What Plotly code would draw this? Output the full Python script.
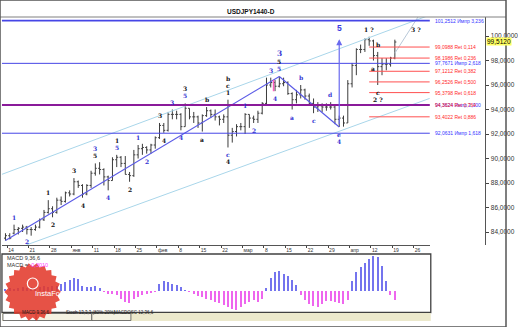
import math
import plotly.graph_objects as go

# ---------------- data ----------------
tick_idx = [1, 6, 11, 16, 21, 26, 31, 36, 41, 46, 51, 56, 61, 66, 71, 76, 81, 86, 91, 96]
tick_text = ['14', '21', '28', 'янв', '11', '18', '25', 'фев', '8', '15', '22', 'мар',
             '8', '15', '22', '29', 'апр', '12', '19', '26']

opens = [83.5, 83.7, 83.9, 84.2, 84.3, 84.4, 84.2, 84.2, 84.4, 85.0, 85.6, 85.9, 85.6, 86.6, 86.5, 87.2,
         87.1, 88.1, 87.8, 87.1, 87.8, 88.8, 89.2, 89.1, 88.5, 88.2, 89.9, 90.1, 89.6, 88.7, 88.6, 90.3,
         90.8, 90.9, 90.7, 91.1, 91.7, 92.7, 92.3, 93.6, 93.6, 93.6, 92.6, 94.1, 93.4, 93.4, 92.9, 93.5,
         93.9, 93.6, 93.4, 93.2, 93.4, 91.9, 92.2, 92.6, 92.6, 93.6, 93.3, 93.2, 93.7, 94.5, 96.0, 96.2,
         95.9, 96.1, 96.2, 95.3, 94.8, 95.2, 95.6, 95.1, 94.5, 94.2, 94.3, 94.2, 94.2, 94.2, 93.2, 93.3,
         92.9, 96.1, 97.6, 98.9, 98.9, 99.7, 99.6, 98.4, 97.5, 97.7, 97.7, 98.2]
highs = [83.9, 83.9, 84.6, 84.4, 84.6, 84.5, 84.4, 84.6, 85.1, 85.8, 86.6, 86.1, 86.8, 86.9, 87.3, 87.4,
         88.4, 88.2, 87.9, 87.9, 89.0, 89.6, 89.7, 89.2, 88.6, 90.1, 90.3, 90.2, 90.2, 88.9, 90.7, 91.1,
         91.2, 91.0, 91.2, 91.8, 92.9, 92.9, 93.8, 94.0, 93.9, 93.7, 94.5, 94.1, 93.8, 93.5, 93.6, 94.2,
         94.0, 94.0, 93.5, 93.6, 94.8, 92.5, 92.8, 92.9, 93.7, 93.6, 93.5, 93.9, 94.6, 96.6, 96.6, 96.4,
         96.7, 96.6, 96.3, 95.4, 95.6, 96.0, 95.7, 95.3, 94.9, 94.6, 94.5, 94.5, 94.6, 94.3, 93.5, 93.5,
         96.4, 97.8, 99.0, 99.3, 99.8, 99.94, 99.7, 98.7, 98.2, 98.2, 98.3, 99.7]
lows = [83.3, 83.4, 83.8, 83.8, 84.0, 83.8, 83.7, 84.1, 84.3, 84.9, 85.5, 85.2, 85.5, 86.2, 86.4, 86.9,
        87.0, 87.6, 86.8, 87.0, 87.6, 88.6, 88.7, 87.8, 87.4, 88.2, 89.3, 89.3, 88.7, 88.1, 88.5, 90.0,
        90.3, 90.4, 90.4, 90.8, 91.6, 92.1, 92.2, 93.2, 93.2, 92.3, 92.6, 93.2, 92.9, 92.5, 92.2, 93.4,
        93.3, 93.1, 92.7, 92.9, 90.9, 91.3, 91.8, 92.3, 92.0, 92.5, 92.9, 92.9, 93.6, 94.3, 95.8, 95.5,
        95.8, 95.9, 95.2, 94.0, 94.5, 94.9, 94.8, 94.4, 93.7, 93.8, 93.8, 93.9, 94.0, 92.8, 92.57, 92.6,
        92.9, 95.8, 96.8, 98.6, 98.7, 99.2, 98.0, 96.0, 96.8, 97.2, 97.5, 98.1]
closes = [83.7, 83.5, 84.2, 84.3, 84.4, 84.2, 84.2, 84.4, 85.0, 85.6, 85.9, 85.6, 86.6, 86.5, 87.2, 87.1,
          88.1, 87.8, 87.1, 87.8, 88.8, 89.2, 89.1, 88.5, 88.2, 89.9, 90.1, 89.6, 88.7, 88.6, 90.3, 90.8,
          90.9, 90.7, 91.1, 91.7, 92.7, 92.3, 93.6, 93.6, 93.6, 92.6, 94.1, 93.4, 93.4, 92.9, 93.5, 93.9,
          93.6, 93.4, 93.2, 93.4, 91.9, 92.2, 92.6, 92.6, 93.6, 93.3, 93.2, 93.7, 94.5, 96.0, 96.2, 95.9,
          96.1, 96.2, 95.3, 94.8, 95.2, 95.6, 95.1, 94.5, 94.2, 94.3, 94.2, 94.2, 94.2, 93.2, 93.3, 92.9,
          96.1, 97.6, 98.9, 98.9, 99.7, 99.6, 98.4, 97.5, 97.7, 97.7, 98.2, 99.51]

macd_hist = [0.07, 0.10, 0.07, 0.10, 0.13, 0.10, 0.13, 0.10, 0.13, 0.17, 0.13, 0.17, 0.17, 0.23, 0.30, 0.37,
             0.43, 0.40, 0.17, 0.13, 0.13, 0.17, 0.10, -0.03, -0.10, -0.10, -0.13, -0.27, -0.37, -0.40, -0.27, -0.20,
             -0.13, -0.10, -0.07, -0.03, 0.23, 0.33, 0.30, 0.23, 0.20, 0.13, 0.03, -0.03, -0.10, -0.17, -0.20, -0.27,
             -0.30, -0.37, -0.40, -0.47, -0.53, -0.60, -0.63, -0.53, -0.43, -0.37, -0.30, -0.37, -0.27, 0.10, 0.43, 0.63,
             0.67, 0.57, 0.50, 0.37, 0.20, -0.13, -0.30, -0.43, -0.50, -0.53, -0.43, -0.33, -0.33, -0.37, -0.40, -0.43,
             -0.30, 0.33, 0.63, 0.80, 0.93, 1.07, 1.17, 1.13, 0.83, 0.33, -0.13, -0.30]

impulse_levels = [101.2512, 97.7671, 94.3624, 92.0631]
impulse_labels = ['101,2512 Импр 3,236', '97,7671 Импр 2,618', '94,3624 Импр 2,000', '92,0631 Импр 1,618']
fib_levels = [99.0988, 98.1986, 97.1212, 96.2526, 95.3798, 94.3624, 93.4022]
fib_labels = ['99,0988 Ret 0,114', '98,1986 Ret 0,236', '97,1212 Ret 0,382', '96,2526 Ret 0,500',
              '95,3798 Ret 0,618', '94,3624 Ret 0,764', '93,4022 Ret 0,886']
price_ticks = [84, 86, 88, 90, 92, 94, 96, 98, 100]
last_price = 99.512

# wave labels: (bar index, text, colour key, 'up'/'dn', stack level)
waves = [
    (2, '1', 'b', 'up', 1), (5, '2', 'b', 'dn', 1),
    (10, '1', 'k', 'up', 1), (11, '2', 'k', 'dn', 1), (16, '3', 'k', 'up', 1), (18, '4', 'k', 'dn', 1),
    (21, '5', 'k', 'up', 1), (21, '3', 'b', 'up', 2), (24, '4', 'b', 'dn', 1),
    (26, '5', 'b', 'up', 1), (26, '1', 'k', 'up', 2), (29, '2', 'k', 'dn', 1),
    (31, '1', 'b', 'up', 1), (33, '2', 'b', 'dn', 1), (36, '3', 'k', 'up', 1), (37, '4', 'k', 'dn', 1),
    (39, '3', 'b', 'up', 1), (41, '4', 'b', 'dn', 1), (42, '5', 'b', 'up', 1), (42, '3', 'k', 'up', 2),
    (46, 'a', 'k', 'dn', 1), (47, 'b', 'k', 'up', 1),
    (52, '1', 'k', 'up', 1), (52, 'c', 'k', 'up', 2), (52, 'b', 'k', 'up', 3),
    (52, 'c', 'b', 'dn', 1), (52, '4', 'k', 'dn', 2),
    (56, '1', 'b', 'up', 1), (58, '2', 'b', 'dn', 1), (62, '3', 'b', 'up', 1), (63, '4', 'b', 'dn', 1),
    (64, '5', 'b', 'up', 1), (64, '5', 'k', 'up', 2), (64, '3', 'b', 'up', 3),
    (67, 'a', 'b', 'dn', 1), (69, 'b', 'b', 'up', 1), (72, 'c', 'b', 'dn', 1), (76, 'd', 'b', 'up', 1),
    (78, 'e', 'b', 'dn', 1), (78, '4', 'b', 'dn', 2),
    (85, '1 ?', 'k', 'up', 1), (86, 'a', 'k', 'dn', 1), (87, 'b', 'k', 'up', 1),
    (87, 'c', 'k', 'dn', 1), (87, '2 ?', 'k', 'dn', 2),
]
channel_upper = ([-1.28, 99.17], [88.65, 101.71])
channel_lower = ([4.88, 99.17], [82.94, 94.91])
projection = ([91, 96.5], [98.6, 101.6])
target_bar = 96         # where the "3 ?" target is marked
fib_start = 85          # bar of the swing high the retracement is drawn from
wave4_low = 78          # bar of wave 4 low (start of the wave 5 arrow)
wave5_top = 64          # bar of the March top

# ---------------- geometry helpers ----------------
W, H = 518, 327
def px(x): return x / W
def py(y): return 1 - y / H
X0, X1 = -0.826, 99.17
Y0, Y1 = 82.939, 101.551
idx = list(range(len(opens)))

BLUE = '#4646e6'
LBLUE = '#a9d6ea'
RED = '#ff5050'
col = {'b': '#3232d2', 'k': '#111111'}

fig = go.Figure()

fig.add_trace(go.Ohlc(x=idx, open=opens, high=highs, low=lows, close=closes,
                      increasing=dict(line=dict(color='#3c3c3c', width=1)),
                      decreasing=dict(line=dict(color='#3c3c3c', width=1)),
                      tickwidth=0.35, hoverinfo='skip', xaxis='x', yaxis='y'))

# channels and trend lines
fig.add_trace(go.Scatter(x=channel_upper[0], y=channel_upper[1], mode='lines',
                         line=dict(color=LBLUE, width=1), hoverinfo='skip'))
fig.add_trace(go.Scatter(x=channel_lower[0], y=channel_lower[1], mode='lines',
                         line=dict(color=LBLUE, width=1), hoverinfo='skip'))
fig.add_trace(go.Scatter(x=projection[0], y=projection[1], mode='lines',
                         line=dict(color='#b8c8d8', width=1), hoverinfo='skip'))
fig.add_trace(go.Scatter(x=[0, wave5_top], y=[lows[0], highs[wave5_top]], mode='lines',
                         line=dict(color='#5a5ae6', width=1.2), hoverinfo='skip'))
fig.add_trace(go.Scatter(x=[wave5_top, wave4_low], y=[highs[wave5_top], lows[wave4_low]], mode='lines',
                         line=dict(color='#5a5ae6', width=1.2), hoverinfo='skip'))
fig.add_trace(go.Scatter(x=[63 - 0.35, 63 - 0.35], y=[lows[63], highs[63]], mode='lines',
                         line=dict(color='#ff60c0', width=1.5), hoverinfo='skip'))

# MACD histogram
fig.add_trace(go.Bar(x=idx, y=macd_hist, width=0.3,
                     marker=dict(color=['#7474ee' if v >= 0 else '#ee66ee' for v in macd_hist], line=dict(width=0)),
                     hoverinfo='skip', xaxis='x2', yaxis='y2'))

shapes = []
annotations = []

# horizontal impulse levels (blue)
for lv, lab in zip(impulse_levels, impulse_labels):
    c = '#8a1a9a' if abs(lv - 94.3624) < 1e-6 else BLUE
    w = 2 if c != BLUE else (1.6 if lv > 101 else 1)
    shapes.append(dict(type='line', xref='x domain', x0=0, x1=1, yref='y', y0=lv, y1=lv,
                       line=dict(color=c, width=w)))
    annotations.append(dict(xref='paper', x=px(443), yref='y', y=lv, text=lab, showarrow=False,
                            xanchor='left', yanchor='middle', font=dict(size=5, color='#3535ff')))
# fibonacci retracements (red)
for lv, lab in zip(fib_levels, fib_labels):
    if abs(lv - 94.3624) > 1e-6:
        shapes.append(dict(type='line', xref='x', x0=fib_start, x1=X1, yref='y', y0=lv, y1=lv,
                           line=dict(color=RED, width=1)))
    annotations.append(dict(xref='paper', x=px(443), yref='y', y=lv, text=lab, showarrow=False,
                            xanchor='left', yanchor='middle', font=dict(size=5, color='#ff2a2a')))

# wave labels
for i, t, ck, d, lvl in waves:
    big = (t == '3' and lvl == 3)
    sh = 2 + 7 * (lvl - 1)
    annotations.append(dict(xref='x', x=i, yref='y', y=highs[i] if d == 'up' else lows[i],
                            yshift=sh if d == 'up' else -sh, yanchor='bottom' if d == 'up' else 'top',
                            text='<b>%s</b>' % t, showarrow=False,
                            font=dict(size=7.5 if big else 6, color=col[ck], family='DejaVu Serif')))
annotations.append(dict(xref='x', x=target_bar, yref='y', y=impulse_levels[0], yshift=-3, yanchor='top',
                        text='<b>3 ?</b>', showarrow=False, font=dict(size=6, color='#111111', family='DejaVu Serif')))
# wave 5 arrow
annotations.append(dict(xref='x', yref='y', x=wave4_low, y=highs[fib_start] - 0.2,
                        axref='x', ayref='y', ax=wave4_low, ay=lows[wave4_low] + 0.1,
                        text='', showarrow=True, arrowhead=2, arrowsize=1, arrowwidth=1.2, arrowcolor='#6a6aee'))
annotations.append(dict(xref='x', yref='y', x=wave4_low, y=highs[fib_start], yshift=2, yanchor='bottom',
                        text='<b>5</b>', showarrow=False, font=dict(size=8.5, color='#3a3ae0')))

# current price box
annotations.append(dict(xref='paper', x=px(497.5), yref='y', y=last_price, xanchor='left', yanchor='middle',
                        text='99,5120', showarrow=False, bgcolor='#ffff60', borderpad=0,
                        font=dict(size=6.5, color='#000')))

# title & frame
annotations.append(dict(xref='paper', yref='paper', x=px(257), y=py(5.5), text='<b>USDJPY1440-D</b>',
                        showarrow=False, font=dict(size=6.5, color='#111')))
shapes.append(dict(type='line', xref='paper', yref='paper', x0=0, x1=1, y0=py(17), y1=py(17),
                   line=dict(color='#808080', width=1)))

# MACD panel
shapes.append(dict(type='rect', xref='paper', yref='paper', x0=px(2), x1=px(441), y0=py(312.5), y1=py(254),
                   line=dict(color='#404040', width=1.3)))
annotations.append(dict(xref='paper', yref='paper', x=px(5), y=py(258), text='MACD 9,36,6', xanchor='left',
                        yanchor='middle', showarrow=False, font=dict(size=5.5, color='#333')))
annotations.append(dict(xref='paper', yref='paper', x=px(5), y=py(264.5),
                        text='MACD = <span style="color:#ff40ff">-0,3010</span>', xanchor='left',
                        yanchor='middle', showarrow=False, font=dict(size=5.5, color='#333')))

# tabs strip
shapes.append(dict(type='rect', xref='paper', yref='paper', x0=px(2), x1=px(441), y0=py(321), y1=py(313),
                   fillcolor='#ece9cc', line=dict(width=0)))
for (a, b, fill) in [(3, 37, '#ffffff'), (37, 94, '#f4f2e2'), (94, 134, '#f4f2e2')]:
    shapes.append(dict(type='rect', xref='paper', yref='paper', x0=px(a), x1=px(b), y0=py(320.5), y1=py(313.5),
                       fillcolor=fill, line=dict(color='#555', width=0.8)))
for (xc, t) in [(20, 'MACD 9,36,6'), (65.5, 'Stoch 13,3,3 (80%-20%)'), (114.5, 'MACDOSC 12,36,6')]:
    annotations.append(dict(xref='paper', yref='paper', x=px(xc), y=py(317), text=t, showarrow=False,
                            font=dict(size=4.5, color='#222')))

# InstaForex badge
pts = []
n = 22
for k in range(2 * n):
    r = 29 if k % 2 == 0 else 25.5
    a = math.pi * k / n
    pts.append('%.5f,%.5f' % (px(33.5 + r * math.cos(a)), py(292 + r * math.sin(a))))
shapes.append(dict(type='path', xref='paper', yref='paper', path='M' + ' L'.join(pts) + ' Z',
                   fillcolor='#e23a2c', line=dict(width=0), opacity=0.88, layer='above'))
shapes.append(dict(type='circle', xref='paper', yref='paper', x0=px(28), x1=px(39), y0=py(289), y1=py(278),
                   line=dict(color='white', width=1.2), layer='above'))
annotations.append(dict(xref='paper', yref='paper', x=px(33.5), y=py(300), text='InstaForex', showarrow=False,
                        font=dict(size=7.5, color='white', family='Liberation Sans')))

# outer frame
shapes.append(dict(type='rect', xref='paper', yref='paper', x0=0, x1=1, y0=0, y1=1,
                   line=dict(color='#555', width=1.5)))

fig.update_layout(
    width=W, height=H, margin=dict(l=0, r=0, t=0, b=0),
    paper_bgcolor='white', plot_bgcolor='white', showlegend=False,
    font=dict(family='Liberation Sans', size=6, color='#222'),
    xaxis=dict(domain=[px(2), px(440)], range=[X0, X1], anchor='y', tickvals=[v - 0.6 for v in tick_idx],
               ticktext=tick_text, ticks='outside', ticklen=2, tickcolor='#444', showline=True,
               linecolor='#555', linewidth=1, showgrid=False, zeroline=False,
               rangeslider=dict(visible=False), tickfont=dict(size=5, color='#333'),
               ticklabelposition='outside right'),
    yaxis=dict(domain=[py(245), py(17)], range=[Y0, Y1], anchor='free', position=px(497), side='right',
               tickvals=price_ticks, ticktext=['%d,0000' % v for v in price_ticks], ticks='outside',
               ticklen=3, tickcolor='#444', showline=True, linecolor='#555', linewidth=1,
               showgrid=False, zeroline=False, tickfont=dict(size=6.5, color='#333')),
    xaxis2=dict(domain=[px(2), px(440)], range=[X0, X1], anchor='y2', visible=False),
    yaxis2=dict(domain=[py(312), py(254)], range=[-0.7, 1.233], visible=False),
    shapes=shapes, annotations=annotations, bargap=0,
)

fig.write_html('out.html')
